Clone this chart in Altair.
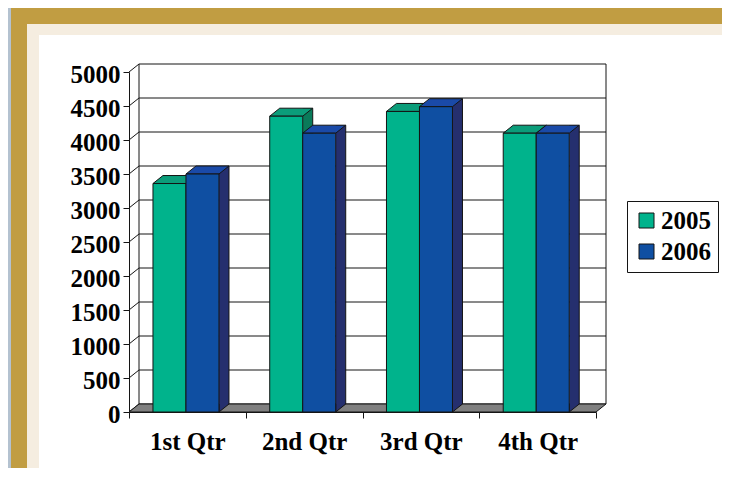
import altair as alt
import pandas as pd

# ---- data ----
quarters = ["1st Qtr", "2nd Qtr", "3rd Qtr", "4th Qtr"]
years = ["2005", "2006"]
sales_2005 = [3360, 4350, 4420, 4100]
sales_2006 = [3500, 4100, 4490, 4100]
y_ticks = [0, 500, 1000, 1500, 2000, 2500, 3000, 3500, 4000, 4500, 5000]

# ---- layout / style ----
W, H = 467, 340          # front plane of the plot
DX, DY = 10, 8           # 3-D depth offset
BAR = 33
SHIFT = -1.4             # pair centre relative to band centre
FONT = "Liberation Serif"
EDGE = "#141414"

colors = {
    "2005": {"front": "#00b38c", "top": "#0b9d7a", "side": "#0a7a5a"},
    "2006": {"front": "#0f4fa2", "top": "#1a4aa8", "side": "#252f6e"},
}

df = pd.DataFrame({
    "quarter": quarters * 2,
    "year": [years[0]] * 4 + [years[1]] * 4,
    "sales": sales_2005 + sales_2006,
})
ticks_df = pd.DataFrame({"tick": y_ticks})
span_df = pd.DataFrame({"lo": [y_ticks[0]], "hi": [y_ticks[-1]]})
one = pd.DataFrame({"k": [0]})

xscale = alt.Scale(domain=quarters, paddingInner=0, paddingOuter=0)
yscale = alt.Scale(domain=[y_ticks[0], y_ticks[-1]], nice=False)

xaxis = alt.Axis(title=None, labelAngle=0, tickBand="extent", labelFont=FONT,
                 labelFontWeight="bold", labelFontSize=25, labelColor="black",
                 labelPadding=11, tickSize=6, tickColor=EDGE, domainColor=EDGE,
                 grid=False, zindex=1)
yaxis = alt.Axis(title=None, values=y_ticks, format="d", labelFont=FONT,
                 labelFontWeight="bold", labelFontSize=25, labelColor="black",
                 labelPadding=3, tickSize=6, tickColor=EDGE, domainColor=EDGE,
                 grid=False, labelOffset=2, zindex=1)

X = alt.X("quarter:N", scale=xscale, axis=xaxis)
Y = alt.Y("sales:Q", scale=yscale, axis=yaxis)

layers = []

# ---- frame (slide background) ----
def frame(x, x2, y, y2, color):
    return alt.Chart(one).mark_rect(color=color).encode(
        x=alt.value(x), x2=alt.value(x2), y=alt.value(y), y2=alt.value(y2))

layers.append(frame(-118, 601, -64, 420, "#c19d42"))
layers.append(frame(-102, 597, -48, 420, "#f5ede0"))
layers.append(frame(-90, 599, -37, 420, "#ffffff"))

# ---- back wall ----
layers.append(alt.Chart(ticks_df).mark_rule(color=EDGE, strokeWidth=1, yOffset=-DY).encode(
    x=alt.value(DX), x2=alt.value(W + DX),
    y=alt.Y("tick:Q", scale=yscale, axis=yaxis)))
layers.append(alt.Chart(ticks_df).mark_rule(color=EDGE, strokeWidth=1, y2Offset=-DY).encode(
    x=alt.value(0), x2=alt.value(DX),
    y=alt.Y("tick:Q", scale=yscale, axis=yaxis), y2=alt.Y2("tick:Q")))
for xv in (DX, W + DX):
    layers.append(alt.Chart(span_df).mark_rule(color=EDGE, strokeWidth=1, yOffset=-DY,
                                               y2Offset=-DY).encode(
        x=alt.value(xv), y=alt.Y("hi:Q", scale=yscale, axis=yaxis), y2=alt.Y2("lo:Q")))

# ---- floor ----
layers.append(alt.Chart(span_df).mark_point(
    shape=f"M0,0 L{W},0 L{W + DX},{-DY} L{DX},{-DY} Z", size=4, filled=True,
    fill="#808080", stroke=EDGE, strokeWidth=1, opacity=1).encode(
    x=alt.value(0), y=alt.Y("lo:Q", scale=yscale, axis=yaxis)))

legend = alt.Legend(title=None, orient="none", legendX=498, legendY=129,
                    symbolType="square", symbolSize=225, symbolStrokeColor=EDGE,
                    symbolStrokeWidth=1, symbolOpacity=1, labelFont=FONT,
                    labelFontWeight="bold", labelFontSize=25, labelColor="black",
                    strokeColor=EDGE, fillColor="white", padding=7, rowPadding=5,
                    labelOffset=2)
cscale = alt.Scale(domain=years, range=[colors[y]["front"] for y in years])

# ---- bars (pseudo 3-D) ----
for i, yr in enumerate(years):
    c = colors[yr]
    left = SHIFT - BAR if i == 0 else SHIFT
    right = left + BAR
    base = alt.Chart(df).transform_filter(alt.datum.year == yr).transform_calculate(
        lo=str(y_ticks[0]))
    # side face
    layers.append(base.mark_bar(width=DX, xOffset=right + DX / 2, yOffset=-DY,
                                y2Offset=-DY, color=c["side"]).encode(x=X, y=Y))
    layers.append(base.mark_point(shape=f"M0,{-DY} L0,0 L{DX},{-DY}", size=4, filled=True,
                                  fill=c["side"], stroke=EDGE, strokeWidth=1, opacity=1,
                                  xOffset=right).encode(
        x=X, y=alt.Y("lo:Q", scale=yscale, axis=yaxis)))
    layers.append(base.mark_rule(color=EDGE, strokeWidth=1, xOffset=right + DX,
                                 yOffset=-DY, y2Offset=-DY).encode(
        x=X, y=Y, y2=alt.Y2("lo:Q")))
    # top face
    layers.append(base.mark_point(
        shape=f"M0,0 L{BAR},0 L{BAR + DX},{-DY} L{DX},{-DY} Z", size=4, filled=True,
        fill=c["top"], stroke=EDGE, strokeWidth=1, opacity=1, xOffset=left).encode(x=X, y=Y))
    # front face
    layers.append(base.mark_bar(width=BAR, xOffset=left + BAR / 2, stroke=EDGE,
                                strokeWidth=1).encode(
        x=X, y=Y, color=alt.Color("year:N", scale=cscale, legend=legend)))

chart = alt.layer(*layers).properties(
    width=W, height=H,
    padding={"left": 121, "top": 64, "right": 126, "bottom": 56},
    autosize=alt.AutoSizeParams(type="none"),
    background="#b4c2d0",
).configure_view(strokeWidth=0)

chart.save("out.html", embed_options={"renderer": "svg", "actions": False})
